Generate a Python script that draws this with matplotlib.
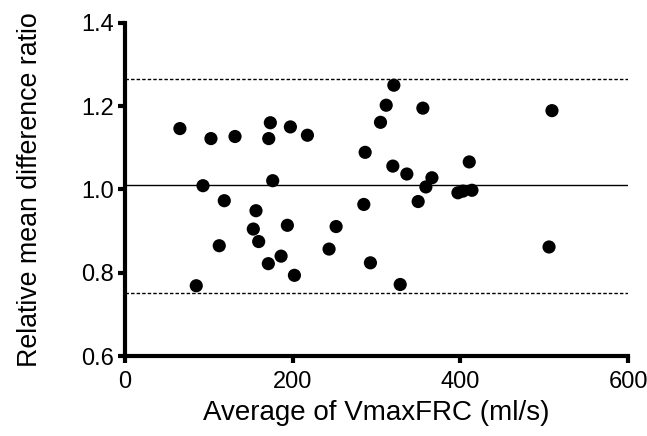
import matplotlib
matplotlib.use("Agg")
import matplotlib.pyplot as plt

plt.rcParams['font.family'] = ['Liberation Sans', 'DejaVu Sans']

avg_vmax = [65.6, 102.6, 131.3, 173.4, 171.5, 197.3, 217.6, 286.4, 304.7, 93.1,
            176.2, 118.5, 156.3, 284.8, 153.1, 193.7, 251.8, 159.5, 112.5, 243.4,
            186.2, 171.0, 292.7, 202.1, 85.1, 320.6, 311.5, 355.2, 509.1, 319.4,
            336.1, 410.5, 366.0, 358.8, 397.0, 403.0, 413.7, 349.6, 505.6, 328.2]
ratio = [1.146, 1.122, 1.127, 1.160, 1.122, 1.150, 1.130, 1.089, 1.161, 1.009,
         1.021, 0.973, 0.949, 0.964, 0.905, 0.914, 0.911, 0.875, 0.865, 0.857,
         0.840, 0.822, 0.824, 0.794, 0.769, 1.250, 1.202, 1.195, 1.189, 1.056,
         1.037, 1.066, 1.028, 1.006, 0.992, 0.996, 0.998, 0.971, 0.862, 0.772]
mean_ratio = 1.010
upper_loa = 1.265
lower_loa = 0.751
x_ticks = [0, 200, 400, 600]
y_ticks = [0.6, 0.8, 1.0, 1.2, 1.4]

fig = plt.figure(figsize=(6.47, 4.36), dpi=100)
ax = fig.add_axes([0.193, 0.183, 0.778, 0.765])

ax.axhline(mean_ratio, color='black', lw=1.0)
ax.axhline(upper_loa, color='black', lw=1.0, ls=(0, (2.5, 1.5)))
ax.axhline(lower_loa, color='black', lw=1.0, ls=(0, (2.5, 1.5)))
ax.scatter(avg_vmax, ratio, s=90, color='black', zorder=3, edgecolors='none')

ax.set_xlim(0, 600)
ax.set_ylim(0.6, 1.4)
ax.set_xticks(x_ticks)
ax.set_yticks(y_ticks)
ax.set_xticklabels([str(v) for v in x_ticks])
ax.set_yticklabels([f"{v:.1f}" for v in y_ticks])

for s in ['top', 'right']:
    ax.spines[s].set_visible(False)
for s in ['left', 'bottom']:
    ax.spines[s].set_linewidth(3)
ax.tick_params(axis='both', width=3, length=5, labelsize=17)
ax.tick_params(axis='x', pad=6)
ax.tick_params(axis='y', pad=3)
ax.set_xlabel('Average of VmaxFRC (ml/s)', fontsize=20, labelpad=5)
ax.set_ylabel('Relative mean difference ratio', fontsize=19.3, labelpad=27)

fig.savefig('out.png', dpi=100)
